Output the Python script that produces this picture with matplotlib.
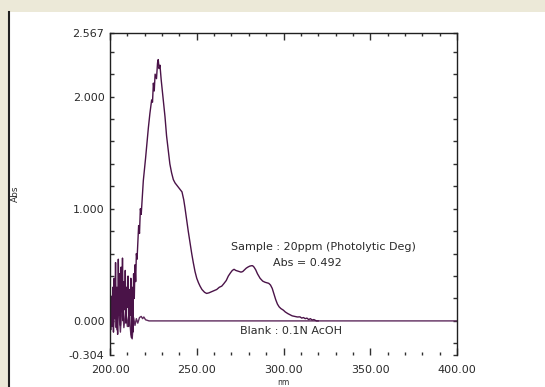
import numpy as np
import matplotlib
matplotlib.use('Agg')
from matplotlib import pyplot as plt
from matplotlib.patches import Rectangle
from matplotlib.lines import Line2D
from matplotlib.ticker import FixedLocator, MultipleLocator

# noisy start of the sample scan, 200.0 - 215.6 nm in 0.4 nm steps
noise_abs = [0.05, -0.08, 0.22, -0.05, 0.30, -0.10, 0.38, 0.02, 0.52, -0.06,
             0.30, -0.12, 0.55, 0.05, 0.42, -0.04, 0.48, 0.08, 0.56, 0.00,
             0.35, 0.10, 0.45, -0.02, 0.30, 0.12, 0.40, -0.05, 0.28, 0.05,
             0.38, -0.15, 0.30, -0.10, 0.42, 0.20, 0.50, 0.35, 0.60, 0.55]
noise_nm = np.linspace(200.0, 215.6, len(noise_abs))

# rest of the sample spectrum
sample_nm = [216.5, 217.0, 217.5, 218.0, 219.2, 220.5, 221.5, 222.1, 223.0, 224.0,
             224.5, 225.0, 225.5, 226.0, 226.8, 227.4, 227.8, 228.3, 228.8, 229.5,
             230.5, 231.7, 232.6, 233.6, 234.5, 235.5, 236.5, 237.5, 238.5, 239.5,
             240.5, 241.5, 242.5, 243.2, 244.2, 245.1, 246.1, 247.1, 248.0, 249.0,
             250.0, 251.0, 251.9, 253.0, 254.5, 255.7, 257.0, 258.5, 260.0, 261.5,
             263.0, 264.4, 265.5, 267.0, 268.2, 269.5, 270.5, 271.5, 272.5, 273.5,
             274.5, 275.5, 276.5, 277.5, 278.5, 279.5, 280.5, 281.5, 282.2, 283.0,
             284.0, 285.0, 286.5, 288.0, 289.3, 290.5, 291.5, 292.5, 293.5, 294.5,
             295.5, 296.5, 297.5, 298.5, 299.9, 301.0, 302.5, 303.7, 305.0, 306.5,
             308.0, 309.5, 310.5, 311.5, 312.5, 313.5, 314.5, 315.5, 316.5, 317.5,
             319.0, 320.0]
sample_abs = [0.85, 0.78, 1.00, 0.95, 1.25, 1.45, 1.62, 1.72, 1.85, 1.97,
              1.95, 2.12, 2.05, 2.20, 2.16, 2.30, 2.33, 2.25, 2.28, 2.15,
              2.00, 1.82, 1.65, 1.52, 1.40, 1.32, 1.26, 1.23, 1.21, 1.19,
              1.17, 1.15, 1.08, 1.01, 0.90, 0.80, 0.70, 0.60, 0.52, 0.44,
              0.38, 0.34, 0.31, 0.28, 0.255, 0.245, 0.25, 0.26, 0.27, 0.28,
              0.30, 0.31, 0.33, 0.36, 0.40, 0.43, 0.45, 0.46, 0.45, 0.445,
              0.44, 0.435, 0.44, 0.455, 0.47, 0.48, 0.488, 0.492, 0.492, 0.48,
              0.455, 0.42, 0.38, 0.355, 0.345, 0.34, 0.335, 0.32, 0.29, 0.24,
              0.19, 0.15, 0.125, 0.11, 0.096, 0.08, 0.065, 0.055, 0.045, 0.04,
              0.035, 0.036, 0.025, 0.03, 0.02, 0.025, 0.012, 0.02, 0.008, 0.012,
              0.0, 0.0]

# blank (0.1N AcOH) baseline
blank_nm = [200.0, 201.0, 202.0, 203.0, 204.0, 205.0, 206.0, 207.0, 208.0, 209.0,
            210.0, 211.0, 212.0, 212.8, 213.6, 214.4, 215.2, 216.0, 217.0, 218.0,
            218.8, 219.5, 220.5, 221.5, 222.5, 400.0]
blank_abs = [0.0, 0.15, -0.05, 0.20, -0.08, 0.12, -0.10, 0.18, -0.06, 0.10,
             -0.05, 0.08, -0.12, -0.16, 0.03, -0.04, 0.02, -0.02, 0.03, 0.04,
             0.02, 0.035, 0.01, 0.005, 0.0, 0.0]

x_range = (200.0, 400.0)
y_range = (-0.304, 2.567)
y_labels = [-0.304, 0.0, 1.0, 2.0, 2.567]
peak_abs = 0.492


def main():
    fig = plt.figure(figsize=(5.45, 3.87), dpi=100)
    fig.patch.set_facecolor('white')

    # window frame: beige strip top and left, dark border line
    fig.patches.append(Rectangle((0, 1 - 12 / 387), 1, 12 / 387, transform=fig.transFigure,
                                 facecolor='#ece9d8', edgecolor='none'))
    fig.patches.append(Rectangle((0, 0), 8 / 545, 1, transform=fig.transFigure,
                                 facecolor='#ece9d8', edgecolor='none'))
    fig.lines.append(Line2D([9 / 545, 9 / 545], [0, 1 - 12 / 387], transform=fig.transFigure,
                            color='#202020', lw=1.5))

    ax = fig.add_axes([110 / 545, 1 - 355 / 387, 347 / 545, (355 - 33) / 387])

    sx = np.concatenate([noise_nm, sample_nm])
    sy = np.concatenate([noise_abs, sample_abs])
    line_col = '#4a1348'
    ax.plot(blank_nm, blank_abs, color='#5e2a5c', lw=1.0)
    ax.plot(sx, sy, color=line_col, lw=1.0)

    ax.set_xlim(*x_range)
    ax.set_ylim(*y_range)

    ax.xaxis.set_major_locator(MultipleLocator(50))
    ax.xaxis.set_minor_locator(MultipleLocator(10))
    ax.xaxis.set_major_formatter(matplotlib.ticker.FormatStrFormatter('%.2f'))
    ax.yaxis.set_major_locator(FixedLocator(y_labels))
    ax.yaxis.set_minor_locator(FixedLocator(np.round(np.arange(-0.2, 2.5, 0.2), 1)))
    ax.yaxis.set_major_formatter(matplotlib.ticker.FormatStrFormatter('%.3f'))

    txt = '#2a2a2a'
    ax.tick_params(axis='both', which='both', direction='in', colors='#303030',
                   labelcolor=txt, labelsize=8, width=1)
    ax.tick_params(axis='x', which='major', length=5, pad=7.5, top=True)
    ax.tick_params(axis='x', which='minor', length=2.5, top=True)
    ax.tick_params(axis='y', which='both', length=3, pad=4, right=True)

    for side in ['left', 'right', 'top']:
        ax.spines[side].set_color('#202020')
        ax.spines[side].set_linewidth(1.0)
    ax.spines['bottom'].set_visible(False)

    ax.set_ylabel('Abs', fontsize=6.5, color=txt)
    ax.yaxis.set_label_coords(-0.259, 0.5)
    ax.set_xlabel('nm', fontsize=5.5, color=txt, va='bottom')
    ax.xaxis.set_label_coords(0.5, -0.099)

    ax.text(269.7, 0.659, 'Sample : 20ppm (Photolytic Deg)', fontsize=8, color=txt,
            va='center', ha='left')
    ax.text(294.0, 0.516, 'Abs = %.3f' % peak_abs, fontsize=8, color=txt,
            va='center', ha='left')
    ax.text(274.9, -0.09, 'Blank : 0.1N AcOH', fontsize=8, color=txt,
            va='center', ha='left')

    plt.savefig('out.png', dpi=100)


if __name__ == '__main__':
    main()
